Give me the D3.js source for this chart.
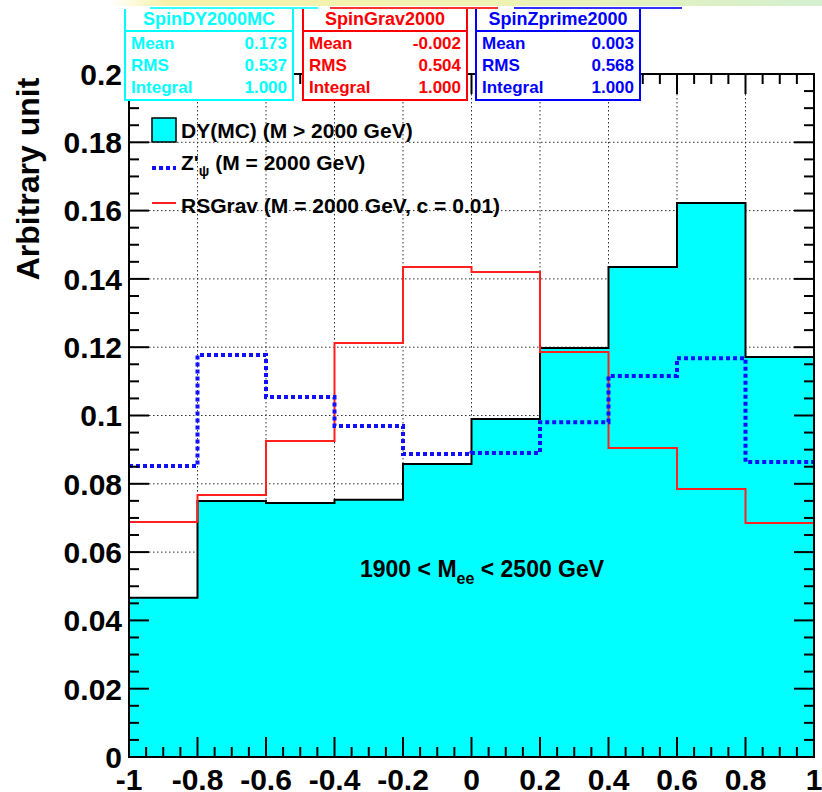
<!DOCTYPE html>
<html><head><meta charset="utf-8">
<script src="https://cdn.jsdelivr.net/npm/d3@7"></script>
<style>body{margin:0;background:#fff}svg text{font-family:"Liberation Sans",Arial,Helvetica,sans-serif;font-weight:bold}</style>
</head><body><svg id="c" width="822" height="792"></svg>
<script>
// cos(theta*) histograms, 10 bins on [-1, 1]
const binEdges = [-1, -0.8, -0.6, -0.4, -0.2, 0, 0.2, 0.4, 0.6, 0.8, 1];
const dyMC   = [0.0466, 0.0750, 0.0744, 0.0753, 0.0858, 0.0990, 0.1198, 0.1435, 0.1622, 0.1171];
const zPrime = [0.0852, 0.1177, 0.1054, 0.0969, 0.0887, 0.0890, 0.0980, 0.1116, 0.1168, 0.0864];
const rsGrav = [0.0688, 0.0767, 0.0925, 0.1212, 0.1435, 0.1420, 0.1186, 0.0905, 0.0785, 0.0685];

const xMajor = [-1, -0.8, -0.6, -0.4, -0.2, 0, 0.2, 0.4, 0.6, 0.8, 1];
const xLabels = ["-1", "-0.8", "-0.6", "-0.4", "-0.2", "0", "0.2", "0.4", "0.6", "0.8", "1"];
const yMajor = [0, 0.02, 0.04, 0.06, 0.08, 0.1, 0.12, 0.14, 0.16, 0.18, 0.2];
const yLabels = ["0", "0.02", "0.04", "0.06", "0.08", "0.1", "0.12", "0.14", "0.16", "0.18", "0.2"];

// statistics boxes
const statNames  = ["SpinDY2000MC", "SpinGrav2000", "SpinZprime2000"];
const statColors = ["#00ffff", "#ff0000", "#0000ff"];
const statMean   = ["0.173", "-0.002", "0.003"];
const statRMS    = ["0.537", "0.504", "0.568"];
const statInt    = ["1.000", "1.000", "1.000"];

const svg = d3.select("#c");
const L = 129, R = 814, T = 74, B = 757;
const x = d3.scaleLinear().domain([-1, 1]).range([L, R]);
const y = d3.scaleLinear().domain([0, 0.2]).range([B, T]);

// faint strip along the top edge
const grad = svg.append("defs").append("linearGradient").attr("id", "strip");
grad.append("stop").attr("offset", "0").attr("stop-color", "#ffffff");
grad.append("stop").attr("offset", "0.08").attr("stop-color", "#f8f2a8");
grad.append("stop").attr("offset", "0.55").attr("stop-color", "#eef2b4");
grad.append("stop").attr("offset", "1").attr("stop-color", "#d4f0d0");
svg.append("rect").attr("x", 110).attr("y", 0).attr("width", 712).attr("height", 6).attr("fill", "url(#strip)");

// grid
const grid = svg.append("g").attr("stroke", "#000").attr("stroke-width", 1).attr("stroke-dasharray", "1.5,2.5").attr("opacity", 0.8);
grid.selectAll("line.v").data(xMajor.slice(1, -1)).join("line")
  .attr("x1", d => x(d)).attr("x2", d => x(d)).attr("y1", T).attr("y2", B);
grid.selectAll("line.h").data(yMajor.slice(1, -1)).join("line")
  .attr("x1", L).attr("x2", R).attr("y1", d => y(d)).attr("y2", d => y(d));

// step-histogram points: left edge of every bin plus the final edge
const stepPts = vals => vals.map((v, i) => [binEdges[i], v]).concat([[binEdges[binEdges.length - 1], vals[vals.length - 1]]]);

const area = d3.area().curve(d3.curveStepAfter).x(d => x(d[0])).y0(y(0)).y1(d => y(d[1]));
const line = d3.line().curve(d3.curveStepAfter).x(d => x(d[0])).y(d => y(d[1]));

svg.append("path").attr("d", area(stepPts(dyMC))).attr("fill", "#00ffff");
svg.append("path").attr("d", line(stepPts(dyMC))).attr("fill", "none").attr("stroke", "#000").attr("stroke-width", 2);
svg.append("path").attr("d", line(stepPts(rsGrav))).attr("fill", "none").attr("stroke", "#ff2020").attr("stroke-width", 2);
svg.append("path").attr("d", line(stepPts(zPrime))).attr("fill", "none").attr("stroke", "#1010ff").attr("stroke-width", 4).attr("stroke-dasharray", "4,3");

// axes: ticks on all four sides
const axG = svg.append("g").attr("stroke", "#000").attr("stroke-width", 2);
const xMinor = d3.range(-1, 1.0001, 0.05);
const yMinor = d3.range(0, 0.2001, 0.005);
const isMajX = v => Math.abs(v * 5 - Math.round(v * 5)) < 1e-6;
const isMajY = v => Math.abs(v * 50 - Math.round(v * 50)) < 1e-6;
axG.selectAll("line.xb").data(xMinor).join("line")
  .attr("x1", d => x(d)).attr("x2", d => x(d)).attr("y1", B).attr("y2", d => B - (isMajX(d) ? 20 : 10));
axG.selectAll("line.xt").data(xMinor).join("line")
  .attr("x1", d => x(d)).attr("x2", d => x(d)).attr("y1", T).attr("y2", d => T + (isMajX(d) ? 20 : 10));
axG.selectAll("line.yl").data(yMinor).join("line")
  .attr("x1", L).attr("x2", d => L + (isMajY(d) ? 20 : 10)).attr("y1", d => y(d)).attr("y2", d => y(d));
axG.selectAll("line.yr").data(yMinor).join("line")
  .attr("x1", R).attr("x2", d => R - (isMajY(d) ? 20 : 10)).attr("y1", d => y(d)).attr("y2", d => y(d));
svg.append("rect").attr("x", L).attr("y", T).attr("width", R - L).attr("height", B - T)
  .attr("fill", "none").attr("stroke", "#000").attr("stroke-width", 2);

// tick labels
svg.append("g").selectAll("text").data(yMajor).join("text")
  .attr("x", L - 7).attr("y", d => y(d)).attr("dy", "0.36em").attr("text-anchor", "end")
  .attr("font-size", 30).text((d, i) => yLabels[i]);
svg.append("g").selectAll("text").data(xMajor).join("text")
  .attr("x", d => x(d)).attr("y", 790).attr("text-anchor", "middle")
  .attr("font-size", 30).text((d, i) => xLabels[i]);

// y title
svg.append("text").attr("transform", "translate(39,179) rotate(-90)").attr("text-anchor", "middle")
  .attr("font-size", 32).text("Arbitrary unit");

// legend
const lg = svg.append("g");
lg.append("rect").attr("x", 152).attr("y", 118).attr("width", 24).attr("height", 24)
  .attr("fill", "#00ffff").attr("stroke", "#000").attr("stroke-width", 1.5);
lg.append("text").attr("x", 181).attr("y", 138).attr("font-size", 21).text("DY(MC) (M > 2000 GeV)");
lg.append("line").attr("x1", 152).attr("x2", 176).attr("y1", 168).attr("y2", 168)
  .attr("stroke", "#1010ff").attr("stroke-width", 4).attr("stroke-dasharray", "4,3");
const zt = lg.append("text").attr("x", 181).attr("y", 170).attr("font-size", 21);
zt.append("tspan").text("Z'");
zt.append("tspan").attr("font-size", 14).attr("dy", 6).text("ψ");
zt.append("tspan").attr("dy", -6).text(" (M = 2000 GeV)");
lg.append("line").attr("x1", 152).attr("x2", 176).attr("y1", 203).attr("y2", 203)
  .attr("stroke", "#ff2020").attr("stroke-width", 2);
lg.append("text").attr("x", 181).attr("y", 213).attr("font-size", 21).text("RSGrav (M = 2000 GeV, c = 0.01)");

// mass window annotation
const an = svg.append("text").attr("x", 360).attr("y", 577).attr("font-size", 23);
an.append("tspan").text("1900 < M");
an.append("tspan").attr("font-size", 16).attr("dy", 7).text("ee");
an.append("tspan").attr("dy", -7).text(" < 2500 GeV");

// statistics boxes (top edge drawn as a separate, shifted bar)
const boxX = [125, 303, 476];
const boxW = [168, 164, 164];
const barX = [150, 330, 514];
statNames.forEach((name, i) => {
  const g = svg.append("g").attr("fill", statColors[i]);
  const x0 = boxX[i], w = boxW[i], c = statColors[i];
  g.append("rect").attr("x", x0).attr("y", 9).attr("width", w).attr("height", 91).attr("fill", "#fff");
  g.append("path").attr("d", `M${x0},9V100H${x0 + w}V9`).attr("fill", "none").attr("stroke", c).attr("stroke-width", 2);
  g.append("line").attr("x1", barX[i]).attr("x2", barX[i] + 168).attr("y1", 8).attr("y2", 8).attr("stroke", c).attr("stroke-width", 2).attr("opacity", 0.8);
  g.append("line").attr("x1", x0).attr("x2", x0 + w).attr("y1", 31).attr("y2", 31).attr("stroke", c).attr("stroke-width", 2);
  g.append("text").attr("x", x0 + w / 2).attr("y", 25).attr("text-anchor", "middle").attr("font-size", 18).text(name);
  const rows = [["Mean", statMean[i]], ["RMS", statRMS[i]], ["Integral", statInt[i]]];
  rows.forEach((r, j) => {
    g.append("text").attr("x", x0 + 6).attr("y", 49 + j * 22).attr("font-size", 17).text(r[0]);
    g.append("text").attr("x", x0 + w - 6).attr("y", 49 + j * 22).attr("text-anchor", "end").attr("font-size", 17).text(r[1]);
  });
});
</script></body></html>
